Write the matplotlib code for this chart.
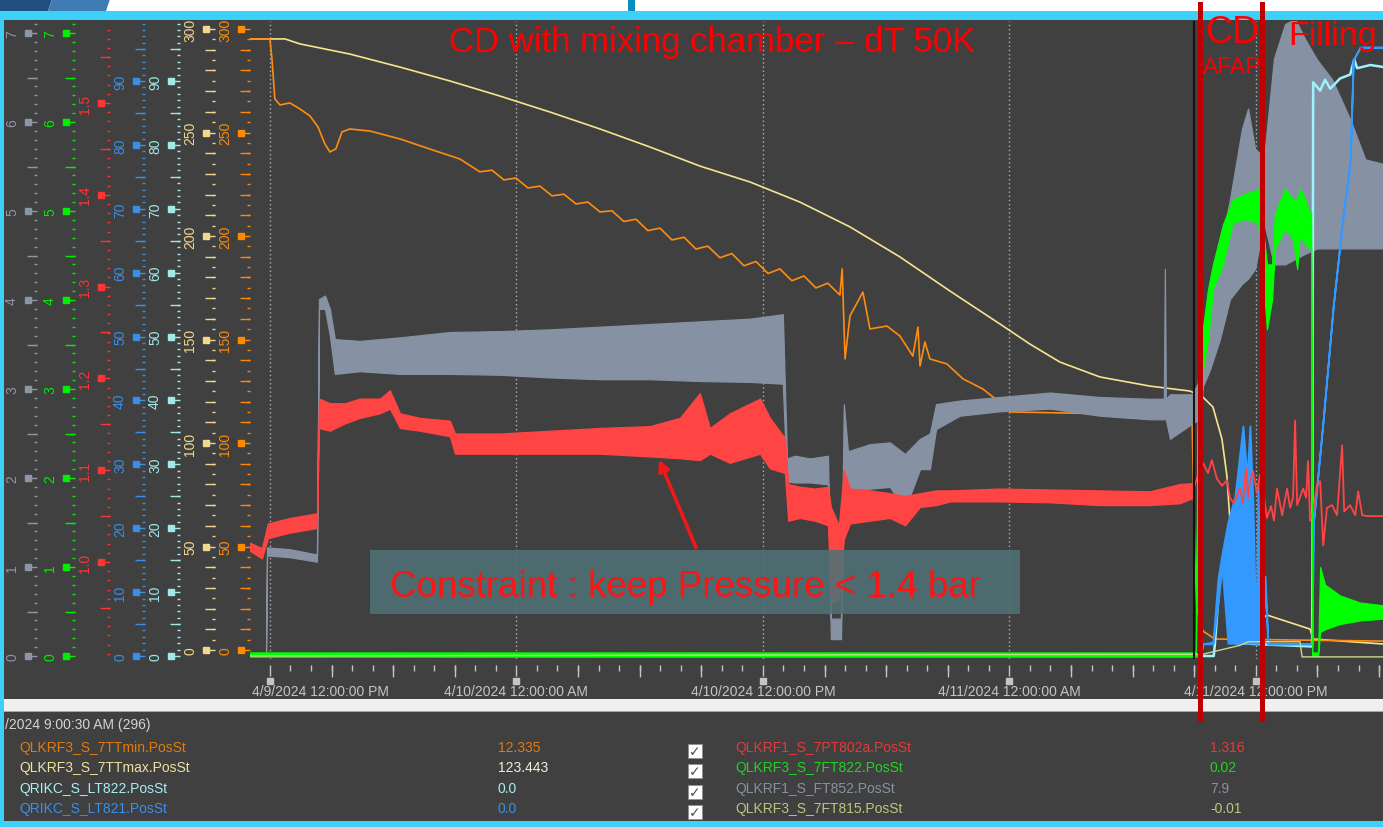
#!/usr/bin/env python3
"""
Trend screen: CD with mixing chamber (dT 50K), 4/9 - 4/11/2024
Seven stacked left scales, eight tags, slide annotations on top
"""

from datetime import datetime

import numpy as np
import matplotlib
matplotlib.use('Agg')
import matplotlib.pyplot as plt
import matplotlib.dates as mdates
from matplotlib.ticker import MultipleLocator, FixedLocator, NullFormatter
from matplotlib.patches import Rectangle, Polygon, FancyArrowPatch

plt.rcParams['font.family'] = ['Liberation Sans', 'DejaVu Sans']

W, H = 1383, 828
AX_L, AX_R, AX_TOP, AX_BOT = 250, 1383, 22, 660
BG = '#404040'
CYAN_BAR = '#3dd1f7'
TICK_C = '#c4c4c4'

# time base: hours since 4/9/2024 00:00
BASE = mdates.date2num(datetime(2024, 4, 9))
X_START_H, X_END_H = 11.03, 66.19
CURSOR_H = 57.01
PHASE_H = [57.28, 60.30]

# ---------------- data ----------------
ttmax_h = [11.03, 12.73, 13.46, 15.89, 18.33, 20.76, 23.20, 25.63, 28.07, 30.50,
           32.93, 35.37, 37.80, 40.24, 42.67, 45.11, 47.54, 49.00, 50.46, 52.41,
           54.84, 56.79, 57.42, 57.91, 58.35, 58.59, 58.74, 58.98, 59.23, 59.57,
           60.30, 60.54, 62.64, 62.79, 66.19]
ttmax_v = [295.2, 295.2, 292.8, 287.9, 281.6, 274.9, 267.6, 259.9, 251.7, 243.0,
           233.8, 226.1, 216.4, 204.4, 189.9, 173.4, 157.5, 147.8, 139.1, 131.9,
           127.5, 125.1, 122.2, 117.4, 101.9, 84.1, 62.3, 29.0, 19.8, 15.9,
           15.0, 16.9, 10.1, 5.3, 2.9]

ttmin_h = [11.03, 12.00, 12.10, 12.24, 12.49, 12.97, 13.46, 13.95, 14.34, 14.68,
           14.92, 15.21, 15.51, 15.89, 16.87, 18.33, 19.79, 21.25, 22.22, 22.81,
           23.39, 23.98, 24.56, 25.15, 25.73, 26.31, 26.90, 27.48, 28.07, 28.65,
           29.23, 29.82, 30.40, 30.99, 31.57, 32.16, 32.74, 33.32, 33.91, 34.49,
           35.08, 35.66, 36.25, 36.83, 37.41, 38.00, 38.58, 39.16, 39.75, 39.86,
           40.00, 40.24, 40.87, 41.21, 42.04, 42.67, 43.30, 43.55, 43.65, 43.89,
           44.13, 44.96, 45.74, 46.71, 47.64, 48.03, 53.38, 56.89, 57.03, 57.13,
           57.42, 58.01, 66.19]
ttmin_v = [295.2, 295.2, 285.5, 266.2, 263.3, 264.3, 261.4, 258.0, 252.7, 244.4,
           240.6, 242.1, 250.3, 251.7, 250.7, 246.9, 242.0, 237.2, 231.0, 231.8,
           227.1, 228.0, 223.2, 224.1, 219.4, 220.2, 215.5, 216.4, 211.6, 212.2,
           207.0, 208.1, 202.6, 203.8, 198.1, 199.4, 193.7, 195.1, 189.5, 191.5,
           185.6, 187.7, 181.9, 184.1, 178.4, 180.7, 174.9, 177.2, 171.5, 184.1,
           140.6, 161.4, 172.9, 155.1, 156.5, 151.7, 142.0, 156.0, 137.2, 148.8,
           140.6, 138.2, 131.0, 126.1, 118.8, 115.0, 114.0, 115.0, 44.0, 19.8,
           9.2, 5.3, 4.3]

ft852_h = [11.03, 11.81, 11.86, 12.97, 14.29, 14.39, 14.68, 14.92, 15.16, 16.38,
           18.33, 20.76, 23.20, 25.63, 28.07, 30.50, 32.93, 35.37, 36.97, 37.17,
           37.56, 38.29, 39.17, 39.31, 39.80, 39.94, 40.14, 41.21, 42.18, 42.92,
           43.65, 44.13, 44.43, 45.59, 47.54, 49.98, 52.41, 54.84, 55.52, 55.57,
           55.62, 55.82, 56.89, 57.28, 57.42, 57.77, 58.25, 58.74, 59.32, 59.62,
           59.96, 60.40, 60.88, 61.42, 61.91, 62.40, 62.98, 63.71, 64.59, 65.33,
           66.19]
ft852_lo = [0.02, 0.02, 1.13, 1.11, 1.06, 3.90, 3.90, 3.60, 3.17, 3.20,
            3.17, 3.17, 3.16, 3.13, 3.11, 3.11, 3.09, 3.08, 3.06, 1.96,
            1.95, 1.95, 1.93, 0.19, 0.19, 1.85, 1.88, 1.88, 1.90, 1.65,
            2.10, 2.10, 2.55, 2.70, 2.75, 2.78, 2.70, 2.66, 2.66, 2.66,
            2.66, 2.44, 2.61, 2.66, 3.03, 3.22, 3.56, 4.01, 4.18, 4.24,
            4.35, 4.87, 4.40, 4.40, 4.46, 4.52, 4.58, 4.58, 4.58, 4.58,
            4.58]
ft852_hi = [0.02, 0.02, 1.22, 1.20, 1.14, 4.01, 4.05, 3.90, 3.56, 3.54,
            3.58, 3.64, 3.65, 3.67, 3.70, 3.73, 3.76, 3.79, 3.84, 2.22,
            2.25, 2.22, 2.25, 0.42, 0.42, 2.83, 2.30, 2.38, 2.40, 2.27,
            2.44, 2.50, 2.83, 2.87, 2.91, 2.96, 2.91, 2.89, 2.89, 4.35,
            2.89, 2.94, 2.94, 3.11, 3.67, 4.12, 4.57, 5.13, 5.92, 6.15,
            5.70, 5.60, 6.71, 7.10, 7.16, 6.93, 6.70, 6.48, 6.03, 5.58,
            5.53]

# pressure: steady noisy band up to the cursor, single noisy trace afterwards
pt802_h = [11.03, 11.61, 11.90, 12.97, 14.29, 14.39, 14.92, 15.65, 16.38, 17.36,
           17.84, 18.33, 19.30, 20.76, 21.01, 23.20, 25.63, 28.07, 30.50, 31.96,
           32.93, 33.42, 34.39, 35.86, 36.34, 37.07, 37.23, 37.80, 38.53, 39.17,
           39.31, 39.70, 39.94, 40.24, 41.21, 42.18, 42.92, 43.65, 44.43, 45.11,
           47.54, 49.98, 52.41, 54.84, 56.30, 56.94]
pt802_lo = [1.012, 1.004, 1.026, 1.032, 1.037, 1.146, 1.143, 1.151, 1.157, 1.162,
            1.167, 1.146, 1.143, 1.137, 1.118, 1.118, 1.118, 1.118, 1.115, 1.113,
            1.111, 1.118, 1.108, 1.118, 1.102, 1.097, 1.045, 1.048, 1.045, 1.040,
            0.955, 0.960, 1.025, 1.042, 1.045, 1.048, 1.040, 1.060, 1.062, 1.066,
            1.066, 1.065, 1.062, 1.062, 1.064, 1.070]
pt802_hi = [1.021, 1.015, 1.042, 1.048, 1.053, 1.178, 1.173, 1.173, 1.178, 1.178,
            1.187, 1.162, 1.157, 1.154, 1.140, 1.140, 1.143, 1.146, 1.148, 1.157,
            1.184, 1.146, 1.162, 1.178, 1.157, 1.135, 1.085, 1.082, 1.080, 1.082,
            1.060, 1.040, 1.100, 1.080, 1.078, 1.075, 1.072, 1.075, 1.078, 1.078,
            1.080, 1.079, 1.078, 1.077, 1.085, 1.086]
pt802_tail_h = [56.94, 57.28, 57.42, 57.67, 57.86, 58.10, 58.35, 58.59, 58.74, 58.93,
                59.08, 59.23, 59.37, 59.52, 59.62, 59.71, 59.86, 60.05, 60.20, 60.40,
                60.54, 60.74, 60.88, 61.03, 61.28, 61.52, 61.67, 61.81, 61.91, 62.01,
                62.30, 62.45, 62.54, 62.64, 62.79, 62.98, 63.13, 63.28, 63.46, 63.71,
                63.95, 64.20, 64.30, 64.59, 64.84, 64.98, 65.18, 65.42, 66.19]
pt802_tail_v = [1.077, 1.102, 1.108, 1.097, 1.111, 1.091, 1.083, 1.089, 1.070, 1.064,
                1.073, 1.080, 1.064, 1.102, 1.070, 1.088, 1.099, 1.075, 1.095, 1.070,
                1.048, 1.061, 1.045, 1.080, 1.051, 1.080, 1.059, 1.070, 1.154, 1.062,
                1.080, 1.070, 1.110, 1.045, 1.055, 1.084, 1.088, 1.018, 1.059, 1.062,
                1.051, 1.127, 1.055, 1.062, 1.051, 1.077, 1.051, 1.050, 1.050]

lt821_h = [11.03, 57.30, 57.42, 57.91, 58.15, 58.35, 58.64, 58.98, 59.37, 59.57,
           59.71, 59.86, 60.01, 60.10, 60.25, 60.45, 60.59, 62.74, 62.79, 63.28,
           63.77, 64.25, 64.59, 64.74, 65.08, 66.19]
lt821_lo = [0, 0, 1.9, 1.9, 8, 14, 2, 2, 2, 2,
            2, 2, 2, 2, 2, 10, 1.9, 1.9, 20.5, 37.1,
            54.9, 69.0, 77.3, 93.3, 95.3, 95.3]
lt821_hi = [0, 0, 1.9, 2.2, 12, 16, 21, 25, 36, 28,
            36, 24, 2, 27, 5, 12.5, 1.9, 1.9, 20.5, 37.1,
            54.9, 69.0, 77.3, 93.3, 95.3, 95.3]

lt822_h = [11.03, 57.95, 58.01, 58.25, 58.50, 58.74, 58.88, 59.03, 62.69, 62.74,
           62.79, 63.13, 63.37, 63.62, 64.10, 64.59, 64.79, 64.93, 65.57, 66.19]
lt822_v = [0, 0, 2, 12.5, 15.6, 16, 13, 2, 1.5, 1.5,
           89.8, 88.5, 90.2, 88.8, 90.4, 91.0, 93.4, 92.0, 92.5, 92.2]

ft822_h = [11.03, 57.08, 57.18, 57.42, 57.67, 57.91, 58.40, 58.88, 59.47, 60.10,
           60.25, 60.54, 60.79, 60.93, 61.42, 61.81, 62.01, 62.15, 62.40, 62.59,
           62.69, 62.74, 63.03, 63.13, 63.37, 64.10, 65.08, 66.19]
ft822_lo = [0.0, 0.0, 2.61, 3.21, 3.56, 4.12, 4.40, 4.87, 4.91, 4.87,
            4.6, 3.67, 4.01, 4.58, 4.80, 4.69, 4.35, 4.74, 4.63, 4.58,
            4.58, 0.0, 0.0, 0.27, 0.30, 0.36, 0.40, 0.42]
ft822_hi = [0.04, 0.04, 3.11, 3.67, 4.12, 4.40, 4.85, 5.13, 5.19, 5.24,
            5.0, 4.40, 4.40, 4.97, 5.25, 5.13, 5.13, 5.25, 5.13, 4.99,
            4.99, 0.04, 0.04, 1.0, 0.80, 0.68, 0.60, 0.57]

ft815_h = [11.03, 57.42, 59.23, 59.62, 62.15, 62.25, 66.19]
ft815_v = [0.0, 0.02, 0.12, 0.16, 0.16, -0.01, -0.01]

# legend panel
cursor_label = '/2024 9:00:30 AM (296)'
leg_left = ['QLKRF3_S_7TTmin.PosSt', 'QLKRF3_S_7TTmax.PosSt',
            'QRIKC_S_LT822.PosSt', 'QRIKC_S_LT821.PosSt']
leg_left_val = ['12.335', '123.443', '0.0', '0.0']
leg_left_col = ['#e07a10', '#f0e0a0', '#a8eef6', '#3a8fe8']
leg_left_valcol = ['#e07a10', '#f5efd8', '#a8eef6', '#3a8fe8']
leg_right = ['QLKRF1_S_7PT802a.PosSt', 'QLKRF3_S_7FT822.PosSt',
             'QLKRF1_S_FT852.PosSt', 'QLKRF3_S_7FT815.PosSt']
leg_right_val = ['1.316', '0.02', '7.9', '-0.01']
leg_right_col = ['#e83838', '#22d422', '#8890a0', '#b8c880']

red_ticks = [1.0, 1.1, 1.2, 1.3, 1.4, 1.5]


def fx(px):
    return px / W


def fy(py):
    return 1 - py / H


def ax_x(px):
    return (px - AX_L) / (AX_R - AX_L)


def ax_y(py):
    return (AX_BOT - py) / (AX_BOT - AX_TOP)


def lims(va, pa, vb, pb):
    # value va sits at pixel row pa, vb at pb
    per = (vb - va) / (pa - pb)
    return va - (AX_BOT - pa) * per, va + (pa - AX_TOP) * per


def t(hours):
    return BASE + np.asarray(hours) / 24.0


fig = plt.figure(figsize=(W / 100, H / 100), dpi=100)
fig.patch.set_facecolor('white')


def box(x0, y0, x1, y1, color, z=-5, **kw):
    r = Rectangle((fx(x0), fy(y1)), fx(x1) - fx(x0), fy(y0) - fy(y1),
                  transform=fig.transFigure, facecolor=color,
                  edgecolor=kw.pop('edgecolor', 'none'), zorder=z, **kw)
    fig.add_artist(r)


# slide frame
fig.add_artist(Polygon([(fx(0), fy(0)), (fx(52), fy(0)), (fx(48), fy(12)), (fx(0), fy(12))],
                       closed=True, transform=fig.transFigure, facecolor='#204f80',
                       edgecolor='none', zorder=-4))
fig.add_artist(Polygon([(fx(52), fy(0)), (fx(110), fy(0)), (fx(106), fy(12)), (fx(48), fy(12))],
                       closed=True, transform=fig.transFigure, facecolor='#3f7cb4',
                       edgecolor='none', zorder=-4))
box(628, 0, 635, 12, '#0b8dc0', z=-4)
box(0, 12, W, 21, CYAN_BAR)
box(0, 21, 4, H, CYAN_BAR)
box(4, 21, W, 700, BG)
box(4, 700, W, 712, '#efefef')
box(4, 712, W, 713, '#a8a8a8')
box(4, 713, W, 822, BG)
box(0, 822, W, H, CYAN_BAR)

# host axes: time axis + grid
ax = fig.add_axes([fx(AX_L), fy(AX_BOT), fx(AX_R) - fx(AX_L), fy(AX_TOP) - fy(AX_BOT)])
ax.set_facecolor(BG)
xlim = (t(X_START_H), t(X_END_H))
ax.set_xlim(*xlim)
ax.set_ylim(0, 1)
ax.xaxis_date()
for s in ax.spines.values():
    s.set_visible(False)
ax.spines['bottom'].set_position(('outward', 4.3))
ax.xaxis.set_major_locator(mdates.HourLocator(byhour=[0, 12]))
ax.xaxis.set_minor_locator(mdates.HourLocator())
ax.xaxis.set_major_formatter(NullFormatter())
ax.tick_params(axis='x', which='major', length=8, width=1, color=TICK_C, labelbottom=False)
ax.tick_params(axis='x', which='minor', length=4.3, width=1, color=TICK_C)
ax.grid(axis='x', which='major', color='#b0b0b0', linestyle=(0, (1, 2)), lw=1)

mid_h = [h for h in range(12, 67, 3) if h % 12]
ax.vlines(t(mid_h), ax_y(666), ax_y(678), transform=ax.get_xaxis_transform(),
          colors=TICK_C, lw=1, clip_on=False)

major_locs = [v for v in ax.get_xticks() if xlim[0] <= v <= xlim[1]]
ax.plot(major_locs, [ax_y(682)] * len(major_locs), 's', ms=5, color=TICK_C,
        transform=ax.get_xaxis_transform(), clip_on=False)
for i, v in enumerate(major_locs):
    d = mdates.num2date(v)
    s = f"{d.month}/{d.day}/{d.year} {d:%I:%M:%S %p}"
    if i == 0:
        ax.text(ax_x(252), ax_y(692), s, transform=ax.transAxes, ha='left', va='center',
                color=TICK_C, fontsize=10)
    else:
        ax.text(v, ax_y(692), s, transform=ax.get_xaxis_transform(), ha='center',
                va='center', color=TICK_C, fontsize=10)


def make_axis(color, spine_px, ylim, major, medium, minor, fixed=None):
    tw = ax.twinx()
    tw.set_ylim(*ylim)
    for sp in tw.spines.values():
        sp.set_visible(False)
    tw.spines['left'].set_position(('axes', ax_x(spine_px)))
    tw.yaxis.set_ticks_position('left')
    tw.yaxis.set_major_locator(FixedLocator(fixed) if fixed else MultipleLocator(major))
    tw.yaxis.set_minor_locator(MultipleLocator(minor))
    tw.tick_params(axis='y', which='major', length=8.6, width=1, color=color,
                   labelcolor=color, labelsize=10, pad=4.3, labelrotation=90)
    tw.tick_params(axis='y', which='minor', length=2.2, width=1, color=color)
    lo, hi = ylim
    mids = np.arange(np.ceil(lo / medium) * medium, hi, medium)
    mids = mids[np.abs(mids / major - np.round(mids / major)) > 1e-6]
    tw.hlines(mids, ax_x(spine_px - 10), ax_x(spine_px), transform=tw.get_yaxis_transform(),
              colors=color, lw=1, clip_on=False)
    majors = [v for v in tw.yaxis.get_majorticklocs() if lo <= v <= hi]
    tw.plot([ax_x(spine_px - 9.5)] * len(majors), majors, 's', ms=4.5, color=color,
            transform=tw.get_yaxis_transform(), clip_on=False)
    for tk in tw.yaxis.get_major_ticks():
        tk.label1.set_va('center')
    return tw


lim_07 = lims(0, 657, 7, 34)
lim_red = lims(1.0, 563, 1.5, 104)
lim_100 = lims(0, 657, 90, 82)
lim_300 = lims(0, 651, 300, 30)

# draw order: back to front
ax_yel = make_axis('#f2d88c', 215, lim_300, 50, 10, 5)
ax_yel.plot(t(ttmax_h), ttmax_v, color='#f8e48c', lw=1.2)

ax_org = make_axis('#ff8a00', 250, lim_300, 50, 10, 5)
ax_org.plot(t(ttmin_h), ttmin_v, color='#ff8c10', lw=1.2)

ax_gry = make_axis('#8c96a4', 37, lim_07, 1, 0.5, 0.1)
ax_gry.fill_between(t(ft852_h), ft852_lo, ft852_hi, facecolor='#8692a4',
                    edgecolor='#8692a4', linewidth=0.9)

ax_cya = make_axis('#a0eaea', 180, lim_100, 10, 5, 1)
ax_cya.plot(t(lt822_h), lt822_v, color='#9ff3ff', lw=1.8)

ax_blu = make_axis('#3a8ee6', 145, lim_100, 10, 5, 1)
ax_blu.fill_between(t(lt821_h), lt821_lo, lt821_hi, facecolor='#3399ff',
                    edgecolor='#3399ff', linewidth=1.3)

ax_red = make_axis('#ff3434', 110, lim_red, 0.1, 0.05, 0.01, fixed=red_ticks)
ax_red.fill_between(t(pt802_h), pt802_lo, pt802_hi, facecolor='#ff4444',
                    edgecolor='#ff4444', linewidth=0.9)
ax_red.plot(t(pt802_tail_h), pt802_tail_v, color='#ff4444', lw=1.3)

ax_grn = make_axis('#00ee00', 75, lim_07, 1, 0.5, 0.1)
ax_grn.plot(t(ft815_h), ft815_v, color='#c8d890', lw=1.0)
ax_grn.fill_between(t(ft822_h), ft822_lo, ft822_hi, facecolor='#00ff00',
                    edgecolor='#00ff00', linewidth=0.9)

# cursor and phase markers
ax_grn.axvline(t(CURSOR_H), ymin=0, ymax=1, color='#141414', lw=1.5)
for h in PHASE_H:
    ax_grn.axvline(t(h), ymin=ax_y(720), ymax=ax_y(5), color='#c00000', lw=3.6,
                   clip_on=False, zorder=10)

ax.set_xlim(*xlim)
ax.yaxis.set_visible(False)

# slide annotations
RED = '#ff0000'
fig.text(fx(449), fy(52), 'CD with mixing chamber \u2013 dT 50K', color=RED,
         fontsize=25, ha='left', va='baseline', zorder=6)
fig.text(fx(1205), fy(43), 'CD', color=RED, fontsize=27, ha='left', va='baseline', zorder=6)
fig.text(fx(1203), fy(74), 'AFAP', color=RED, fontsize=16.5, ha='left', va='baseline', zorder=6)
fig.text(fx(1288), fy(45), 'Filling', color=RED, fontsize=24.5, ha='left', va='baseline', zorder=6)

box(370, 551, 1020, 615, '#4f7176', z=5, alpha=0.88)
fig.text(fx(390), fy(597), 'Constraint : keep Pressure < 1.4 bar', color='#ff1414',
         fontsize=26.5, ha='left', va='baseline', zorder=6)
fig.add_artist(FancyArrowPatch((fx(697), fy(551)), (fx(658), fy(458)),
                               transform=fig.transFigure, arrowstyle='-|>',
                               mutation_scale=16, lw=2.6, color='#f01818', zorder=6))

# legend panel
fig.text(fx(5), fy(725), cursor_label, color='#d4d4d4', fontsize=10, va='center')
rows_y = [748, 768, 789, 809]
for i, y in enumerate(rows_y):
    fig.text(fx(19), fy(y), leg_left[i], color=leg_left_col[i], fontsize=10, va='center')
    fig.text(fx(498), fy(y), leg_left_val[i], color=leg_left_valcol[i], fontsize=10, va='center')
    fig.text(fx(735), fy(y), leg_right[i], color=leg_right_col[i], fontsize=10, va='center')
    fig.text(fx(1210), fy(y), leg_right_val[i], color=leg_right_col[i], fontsize=10, va='center')
    box(688, y - 3, 702, y + 11, 'white', z=3, edgecolor='#909090', linewidth=0.6)
    fig.text(fx(695), fy(y + 4), '\u2713', color='#505050', fontsize=10, ha='center',
             va='center', family=['DejaVu Sans'], zorder=4)

fig.savefig('out.png', dpi=100, facecolor=fig.get_facecolor())
